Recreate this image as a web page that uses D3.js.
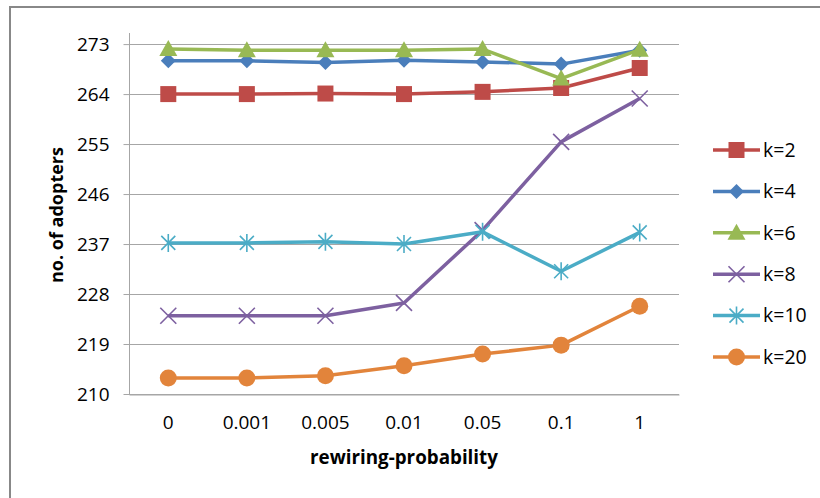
<!DOCTYPE html>
<html lang="en">
<head>
<meta charset="UTF-8">
<title>adopters vs rewiring-probability</title>
<script src="https://cdn.jsdelivr.net/npm/d3@7"></script>
<style>
  body { margin: 0; background: #fff; }
  text { font-family: "Open Sans", Lato, sans-serif; fill: #000; }
</style>
</head>
<body>
<script>
// data
var categories = ["0", "0.001", "0.005", "0.01", "0.05", "0.1", "1"];
var yTicks = [210, 219, 228, 237, 246, 255, 264, 273];
var seriesNames = ["k=2", "k=4", "k=6", "k=8", "k=10", "k=20"];
var k2  = [264.0, 264.0, 264.1, 264.0, 264.4, 265.1, 268.7];
var k4  = [270.0, 270.0, 269.7, 270.1, 269.8, 269.4, 271.9];
var k6  = [272.1, 271.9, 271.9, 271.9, 272.1, 266.8, 272.0];
var k8  = [224.1, 224.1, 224.1, 226.4, 239.5, 255.4, 263.2];
var k10 = [237.2, 237.2, 237.4, 237.0, 239.2, 232.1, 239.1];
var k20 = [212.9, 212.9, 213.3, 215.1, 217.2, 218.8, 225.8];

var width = 820, height = 498;
var colors = ["#BE4B48", "#4A7EBB", "#98B954", "#7D60A0", "#4BACC6", "#E2843B"];
var markers = ["square", "diamond", "triangle", "x", "star", "circle"];
var allValues = [k2, k4, k6, k8, k10, k20];

var svg = d3.select("body").append("svg")
    .attr("width", width).attr("height", height);

// outer chart border (runs off the right and bottom edge)
svg.append("rect")
    .attr("x", 10).attr("y", 7).attr("width", 830).attr("height", 510)
    .attr("fill", "none").attr("stroke", "#888").attr("stroke-width", 2);

var plot = {left: 129, right: 679, top: 33, bottom: 394};

var x = d3.scaleBand().domain(categories).range([plot.left, plot.right]);
var y = d3.scaleLinear().domain([210, 275]).range([plot.bottom, plot.top]);

// gridlines
svg.append("g").selectAll("line").data(yTicks).enter().append("line")
    .attr("x1", plot.left).attr("x2", plot.right)
    .attr("y1", function(d) { return Math.round(y(d)) + 0.5; })
    .attr("y2", function(d) { return Math.round(y(d)) + 0.5; })
    .attr("stroke", "#a6a6a6").attr("stroke-width", 1);

// y axis
var yAxis = d3.axisLeft(y).tickValues(yTicks).tickSize(6).tickPadding(14);
var gy = svg.append("g").attr("transform", "translate(" + (plot.left + 0.5) + ",0)").call(yAxis);
gy.select(".domain").attr("stroke", "#a6a6a6").attr("d", "M0," + plot.top + "V" + plot.bottom);
gy.selectAll(".tick line").attr("x2", 0).attr("x1", -6).attr("stroke", "#a6a6a6");
gy.selectAll("text").style("font-size", "19px").attr("fill", "#000");

// x axis
var xAxis = d3.axisBottom(x).tickSize(0).tickPadding(21);
var gx = svg.append("g").attr("transform", "translate(0," + (Math.round(plot.bottom) + 0.5) + ")").call(xAxis);
gx.select(".domain").attr("stroke", "#a6a6a6");
gx.selectAll("text").style("font-size", "19px").attr("fill", "#000");

// axis titles
svg.append("text")
    .attr("transform", "translate(63,215) rotate(-90)")
    .attr("text-anchor", "middle")
    .style("font-size", "18px").style("font-weight", "bold")
    .text("no. of adopters");
svg.append("text")
    .attr("x", 404).attr("y", 464)
    .attr("text-anchor", "middle")
    .style("font-size", "18.8px").style("font-weight", "bold")
    .text("rewiring-probability");

function drawMarker(g, type, color) {
    if (type === "square") {
        g.append("rect").attr("x", -8).attr("y", -8).attr("width", 16).attr("height", 16)
            .attr("fill", color);
    } else if (type === "diamond") {
        g.append("path").attr("d", "M0,-7.5L7.5,0L0,7.5L-7.5,0Z").attr("fill", color);
    } else if (type === "triangle") {
        g.append("path").attr("d", "M0,-9L9,7L-9,7Z").attr("fill", color);
    } else if (type === "circle") {
        g.append("circle").attr("r", 8.5).attr("fill", color);
    } else if (type === "x") {
        g.append("path").attr("d", "M-8,-8L8,8M8,-8L-8,8")
            .attr("stroke", color).attr("stroke-width", 1.6).attr("fill", "none");
    } else if (type === "star") {
        g.append("path").attr("d", "M-7,-7L7,7M7,-7L-7,7M0,-9V9")
            .attr("stroke", color).attr("stroke-width", 1.6).attr("fill", "none");
    }
}

var line = d3.line()
    .x(function(d, i) { return x(categories[i]) + x.bandwidth() / 2; })
    .y(function(d) { return y(d); });

allValues.forEach(function(vals, s) {
    var g = svg.append("g");
    g.append("path").datum(vals)
        .attr("d", line)
        .attr("fill", "none").attr("stroke", colors[s]).attr("stroke-width", 3.5)
        .attr("stroke-linejoin", "round");
    g.selectAll("g.m").data(vals).enter().append("g")
        .attr("class", "m")
        .attr("transform", function(d, i) {
            return "translate(" + (x(categories[i]) + x.bandwidth() / 2) + "," + y(d) + ")";
        })
        .each(function() { drawMarker(d3.select(this), markers[s], colors[s]); });
});

// legend
var legend = svg.append("g").attr("transform", "translate(713,150)");
seriesNames.forEach(function(name, s) {
    var row = legend.append("g").attr("transform", "translate(0," + (s * 41.4) + ")");
    row.append("line").attr("x1", 0).attr("x2", 47).attr("y1", 0).attr("y2", 0)
        .attr("stroke", colors[s]).attr("stroke-width", 3.5);
    var m = row.append("g").attr("transform", "translate(23.5,0)");
    drawMarker(m, markers[s], colors[s]);
    row.append("text").attr("x", 50).attr("y", 0).attr("dy", "0.35em")
        .style("font-size", "19.5px").text(name);
});
</script>
</body>
</html>
